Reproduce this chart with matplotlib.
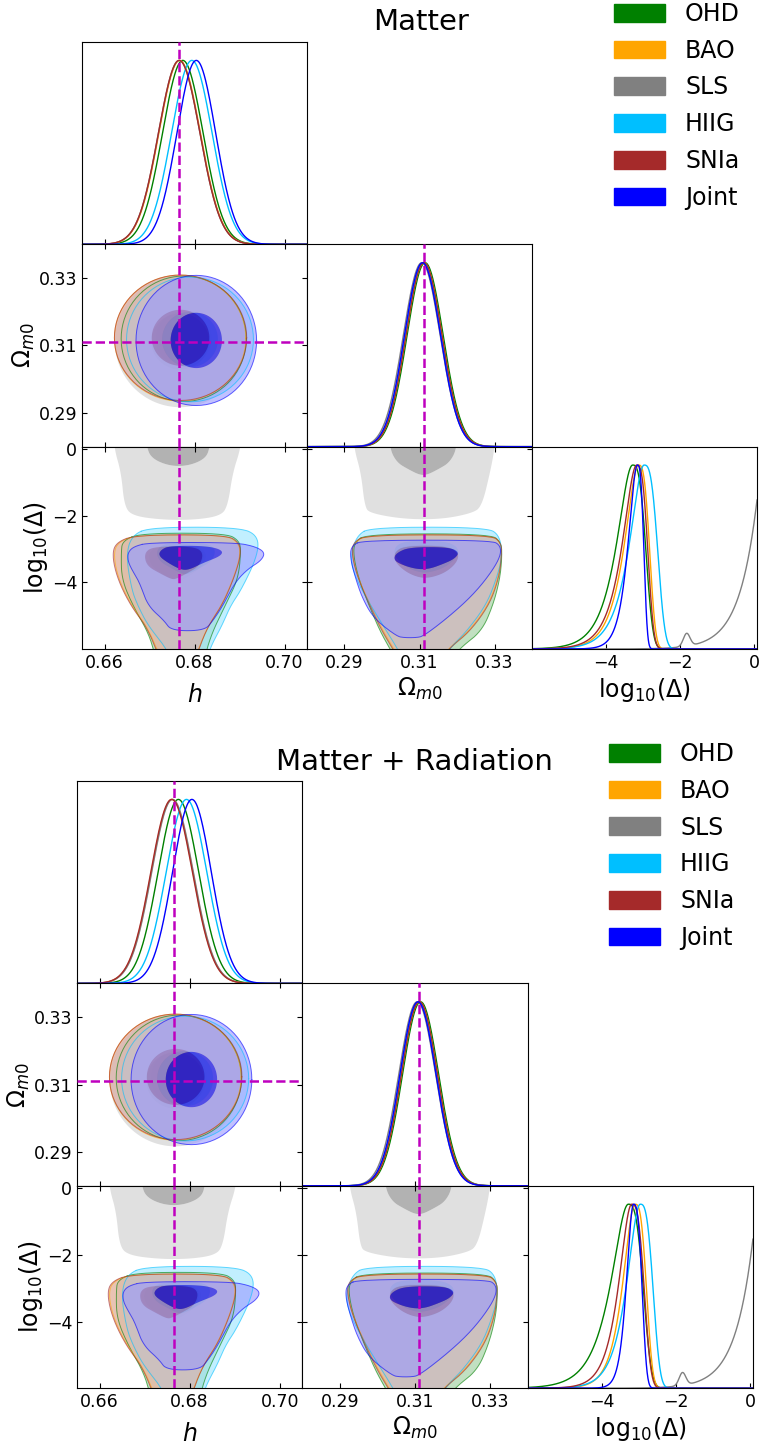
import numpy as np
import matplotlib
matplotlib.use("Agg")
import matplotlib.pyplot as plt
from matplotlib.path import Path
from matplotlib.patches import PathPatch, Polygon, Patch
from matplotlib.colors import to_rgb

# data sets, plotted in this order (Joint ends on top)
names = ['OHD', 'BAO', 'SLS', 'HIIG', 'SNIa', 'Joint']
colors = ['green', 'orange', 'gray', 'deepskyblue', 'brown', 'blue']

# fiducial values (dashed lines)
h_fid = 0.6766
om_fid = 0.3111

h_range = (0.655, 0.705)
om_range = (0.28, 0.34)
ld_range = (-6.0, 0.08)
h_ticks = [0.66, 0.68, 0.70]
om_ticks = [0.29, 0.31, 0.33]
ld_ticks = [-4, -2, 0]
h_ticklabels = ['0.66', '0.68', '0.70']
om_ticklabels = ['0.29', '0.31', '0.33']
ld_ticklabels = ['\u22124', '\u22122', '0']

# ---- 1D marginals, Matter ----
h_mean_mat = [0.6774, 0.6767, 0.6766, 0.6794, 0.6766, 0.6804]
h_sig_mat = [0.0045, 0.0046, 0.0046, 0.0045, 0.0046, 0.0043]
om_mean_mat = [0.3115, 0.3112, 0.3106, 0.3110, 0.3112, 0.3108]
om_sig_mat = [0.0048, 0.0048, 0.0049, 0.0048, 0.0048, 0.0048]
# log10(Delta): peak, left half width, tail scale, right half width (SLS handled apart)
ld_peak_mat = [-3.28, -3.12, None, -2.97, -3.17, -3.15]
ld_lhw_mat = [0.50, 0.44, None, 0.46, 0.45, 0.29]
ld_tail_mat = [0.35, 0.30, None, 0.30, 0.30, 0.25]
ld_rhw_mat = [0.37, 0.31, None, 0.38, 0.31, 0.18]

# ---- 1D marginals, Matter + Radiation ----
h_mean_rad = [0.6775, 0.6761, 0.6762, 0.6793, 0.6760, 0.6805]
h_sig_rad = [0.0045, 0.0046, 0.0046, 0.0045, 0.0046, 0.0043]
om_mean_rad = [0.3115, 0.3112, 0.3106, 0.3110, 0.3112, 0.3108]
om_sig_rad = [0.0048, 0.0048, 0.0049, 0.0048, 0.0048, 0.0048]
ld_peak_rad = [-3.28, -3.10, None, -2.96, -3.19, -3.14]
ld_lhw_rad = [0.55, 0.38, None, 0.42, 0.40, 0.22]
ld_tail_rad = [0.35, 0.30, None, 0.30, 0.30, 0.25]
ld_rhw_rad = [0.42, 0.32, None, 0.36, 0.35, 0.24]

# SLS log10(Delta) marginal: rising edge plus small bump
sls_rise_amp = 0.81
sls_rise_scale = 0.48
sls_bump_pos = -1.82
sls_bump_height = 0.07
sls_bump_width = 0.09

# ---- 2D (h, Omega_m0): centres and 95% / 68% half axes ----
hom_h = [0.6776, 0.6768, 0.6768, 0.6790, 0.6769, 0.6804]
hom_om = [0.3120, 0.3122, 0.3112, 0.3118, 0.3123, 0.3115]
hom_rx95 = [0.0139, 0.0146, 0.0145, 0.0141, 0.0147, 0.0134]
hom_ry95 = [0.0186, 0.0187, 0.0195, 0.0185, 0.0186, 0.0193]
hom_rx68 = [0.0062, 0.0064, 0.0064, 0.0062, 0.0064, 0.0057]
hom_ry68 = [0.0083, 0.0083, 0.0083, 0.0082, 0.0083, 0.0082]

# ---- 2D (h, log10 Delta): rows (log10Delta, h_left, h_right) ----
hld95_ohd = [(-2.52, 0.6680, 0.6870), (-2.75, 0.6640, 0.6900), (-3.1, 0.6637, 0.6903), (-3.9, 0.6638, 0.6897),
             (-4.7, 0.6663, 0.6868), (-5.6, 0.6701, 0.6836), (-6.4, 0.6715, 0.6820)]
hld95_bao = [(-2.57, 0.6672, 0.6868), (-2.8, 0.6628, 0.6898), (-3.2, 0.6620, 0.6902), (-3.9, 0.6631, 0.6886),
             (-4.7, 0.6660, 0.6860), (-5.4, 0.6698, 0.6826), (-6.4, 0.6728, 0.6798)]
hld95_sls = [(0.6, 0.6620, 0.6906), (0.0, 0.6622, 0.6902), (-0.7, 0.6637, 0.6885), (-1.7, 0.6644, 0.6874),
             (-2.0, 0.6662, 0.6858), (-2.12, 0.6730, 0.6800)]
hld95_hiig = [(-2.34, 0.6700, 0.6900), (-2.6, 0.6660, 0.6942), (-3.2, 0.6648, 0.6940), (-4.2, 0.6660, 0.6905),
              (-4.7, 0.6674, 0.6880), (-5.3, 0.6697, 0.6861), (-5.9, 0.6733, 0.6837), (-6.4, 0.6752, 0.6825)]
hld95_snia = [(-2.57, 0.6670, 0.6870), (-2.8, 0.6625, 0.6900), (-3.2, 0.6617, 0.6903), (-3.9, 0.6629, 0.6887),
              (-4.7, 0.6658, 0.6861), (-5.4, 0.6697, 0.6826), (-6.4, 0.6725, 0.6800)]
hld95_joint = [(-2.80, 0.6700, 0.6890), (-2.92, 0.6665, 0.6935), (-3.1, 0.6652, 0.6957), (-3.35, 0.6652, 0.6948),
               (-3.6, 0.6660, 0.6918), (-4.0, 0.6678, 0.6890), (-4.7, 0.6696, 0.6863), (-5.15, 0.6733, 0.6841),
               (-5.45, 0.6748, 0.6822)]

hld68_ohd = [(-2.9, 0.6720, 0.6805), (-3.1, 0.6697, 0.6828), (-3.5, 0.6702, 0.6820), (-3.8, 0.6735, 0.6790),
             (-3.95, 0.6758, 0.6768)]
hld68_bao = [(-2.9, 0.6712, 0.6800), (-3.1, 0.6690, 0.6822), (-3.5, 0.6695, 0.6815), (-3.75, 0.6728, 0.6782),
             (-3.9, 0.6750, 0.6760)]
hld68_sls = [(0.6, 0.6694, 0.6834), (0.0, 0.6694, 0.6834), (-0.3, 0.6708, 0.6822), (-0.5, 0.6745, 0.6785)]
hld68_hiig = [(-2.8, 0.6740, 0.6825), (-3.0, 0.6715, 0.6848), (-3.35, 0.6720, 0.6840), (-3.6, 0.6752, 0.6808),
              (-3.75, 0.6775, 0.6785)]
hld68_snia = [(-2.92, 0.6710, 0.6798), (-3.1, 0.6688, 0.6820), (-3.5, 0.6693, 0.6812), (-3.75, 0.6726, 0.6780),
              (-3.9, 0.6748, 0.6758)]
hld68_joint = [(-2.9, 0.6745, 0.6825), (-3.02, 0.6725, 0.6862), (-3.2, 0.6720, 0.6860), (-3.42, 0.6742, 0.6818),
               (-3.62, 0.6770, 0.6788)]

# ---- 2D (Omega_m0, log10 Delta): rows (log10Delta, om_left, om_right) ----
old95_ohd = [(-2.54, 0.2960, 0.3290), (-2.8, 0.2926, 0.3318), (-3.2, 0.2924, 0.3320), (-3.86, 0.2937, 0.3315),
             (-4.66, 0.2964, 0.3297), (-5.47, 0.2995, 0.3266), (-5.97, 0.3020, 0.3208), (-6.4, 0.3040, 0.3180)]
old95_bao = [(-2.57, 0.2962, 0.3288), (-2.8, 0.2924, 0.3318), (-3.2, 0.2921, 0.3319), (-3.86, 0.2936, 0.3310),
             (-4.66, 0.2968, 0.3285), (-5.47, 0.3003, 0.3232), (-5.97, 0.3030, 0.3178), (-6.4, 0.3050, 0.3150)]
old95_sls = [(0.6, 0.2924, 0.3301), (0.0, 0.2926, 0.3300), (-0.71, 0.2944, 0.3288), (-1.72, 0.2954, 0.3266),
             (-1.92, 0.2968, 0.3240), (-2.1, 0.3060, 0.3160)]
old95_hiig = [(-2.34, 0.2970, 0.3280), (-2.6, 0.2932, 0.3315), (-3.26, 0.2915, 0.3320), (-3.86, 0.2929, 0.3306),
              (-4.66, 0.2968, 0.3279), (-5.47, 0.3013, 0.3226), (-5.97, 0.3040, 0.3181), (-6.4, 0.3060, 0.3160)]
old95_snia = [(-2.57, 0.2960, 0.3290), (-2.8, 0.2922, 0.3318), (-3.2, 0.2920, 0.3319), (-3.86, 0.2935, 0.3312),
              (-4.66, 0.2966, 0.3287), (-5.47, 0.3000, 0.3235), (-5.97, 0.3028, 0.3180), (-6.4, 0.3048, 0.3152)]
old95_joint = [(-2.73, 0.2950, 0.3292), (-2.9, 0.2918, 0.3317), (-3.26, 0.2915, 0.3315), (-3.86, 0.2929, 0.3281),
               (-4.46, 0.2947, 0.3235), (-5.07, 0.2977, 0.3174), (-5.62, 0.3039, 0.3110), (-5.66, 0.3060, 0.3090)]

old68_ohd = [(-2.88, 0.3062, 0.3172), (-3.1, 0.3034, 0.3207), (-3.4, 0.3037, 0.3202), (-3.7, 0.3067, 0.3172),
             (-3.88, 0.3102, 0.3132)]
old68_bao = [(-2.88, 0.3060, 0.3170), (-3.1, 0.3032, 0.3205), (-3.4, 0.3035, 0.3200), (-3.7, 0.3065, 0.3170),
             (-3.85, 0.3100, 0.3130)]
old68_sls = [(0.6, 0.3021, 0.3199), (0.0, 0.3021, 0.3199), (-0.4, 0.3040, 0.3180), (-0.6, 0.3070, 0.3150),
             (-0.77, 0.3100, 0.3120)]
old68_hiig = [(-2.75, 0.3060, 0.3168), (-2.95, 0.3032, 0.3205), (-3.25, 0.3035, 0.3200), (-3.55, 0.3065, 0.3168),
              (-3.7, 0.3100, 0.3128)]
old68_snia = [(-2.9, 0.3060, 0.3170), (-3.1, 0.3032, 0.3205), (-3.4, 0.3035, 0.3200), (-3.7, 0.3065, 0.3170),
              (-3.86, 0.3100, 0.3130)]
old68_joint = [(-2.94, 0.3075, 0.3180), (-3.1, 0.3040, 0.3207), (-3.3, 0.3030, 0.3192), (-3.45, 0.3048, 0.3162),
               (-3.6, 0.3090, 0.3125)]

hld95 = [hld95_ohd, hld95_bao, hld95_sls, hld95_hiig, hld95_snia, hld95_joint]
hld68 = [hld68_ohd, hld68_bao, hld68_sls, hld68_hiig, hld68_snia, hld68_joint]
old95 = [old95_ohd, old95_bao, old95_sls, old95_hiig, old95_snia, old95_joint]
old68 = [old68_ohd, old68_bao, old68_sls, old68_hiig, old68_snia, old68_joint]

fill_alpha = 0.6

W, H = 761.0, 1448.0
fig = plt.figure(figsize=(W / 100, H / 100), dpi=100)


def gauss(x, m, s):
    return np.exp(-0.5 * ((x - m) / s) ** 2)


def ld_curve(L, peak, lhw, tail, rhw):
    d = peak - L
    b = np.log(2) / (np.sqrt(1 + (lhw / tail) ** 2) - 1)
    left = np.exp(-b * (np.sqrt(1 + (d / tail) ** 2) - 1))
    s = rhw / (2 * np.log(2)) ** (1 / 3)
    right = np.exp(-0.5 * np.abs(d / s) ** 3)
    return np.where(d > 0, left, right)


def sls_curve(L):
    return (sls_rise_amp * np.exp((L - ld_range[1]) / sls_rise_scale)
            + sls_bump_height * gauss(L, sls_bump_pos, sls_bump_width))


def chaikin(pts, n=4):
    pts = np.asarray(pts, float)
    for _ in range(n):
        nxt = np.roll(pts, -1, axis=0)
        out = np.empty((2 * len(pts), 2))
        out[0::2] = 0.75 * pts + 0.25 * nxt
        out[1::2] = 0.25 * pts + 0.75 * nxt
        pts = out
    return pts


def rows_outline(rows):
    r = np.asarray(rows, float)
    left = np.column_stack([r[:, 1], r[:, 0]])
    right = np.column_stack([r[:, 2], r[:, 0]])[::-1]
    return chaikin(np.vstack([left, right]))


def ellipse_outline(xc, yc, rx, ry, n=160):
    t = np.linspace(0, 2 * np.pi, n, endpoint=False)
    return np.column_stack([xc + rx * np.cos(t), yc + ry * np.sin(t)])


def signed_area(p):
    x, y = p[:, 0], p[:, 1]
    return 0.5 * np.sum(x * np.roll(y, -1) - np.roll(x, -1) * y)


def draw_region(ax, outer, inner, color, line=True):
    # pale 95% band with the 68% area cut out, then the 68% area in full colour
    c = np.array(to_rgb(color))
    pale = 0.4 * c + 0.6
    hole = inner[::-1] if np.sign(signed_area(outer)) == np.sign(signed_area(inner)) else inner
    verts = np.vstack([outer, outer[:1], hole, hole[:1]])
    codes = ([Path.MOVETO] + [Path.LINETO] * (len(outer) - 1) + [Path.CLOSEPOLY]
             + [Path.MOVETO] + [Path.LINETO] * (len(hole) - 1) + [Path.CLOSEPOLY])
    ax.add_patch(PathPatch(Path(verts, codes), facecolor=pale, edgecolor='none', alpha=fill_alpha))
    ax.add_patch(Polygon(inner, closed=True, facecolor=c, edgecolor='none', alpha=fill_alpha))
    if line:
        q = np.vstack([outer, outer[:1]])
        ax.plot(q[:, 0], q[:, 1], color=c, lw=0.7, alpha=0.6)


def triangle(x0, y0, cw, rh, h_mean, h_sig, om_mean, om_sig, ld_peak, ld_lhw, ld_tail, ld_rhw):
    axs = {}
    for i in range(3):
        for j in range(i + 1):
            rect = [(x0 + j * cw) / W, 1 - (y0 + (i + 1) * rh) / H, cw / W, rh / H]
            axs[i, j] = fig.add_axes(rect)

    hx = np.linspace(h_range[0], h_range[1], 500)
    ox = np.linspace(om_range[0], om_range[1], 500)
    lx = np.linspace(ld_range[0], ld_range[1], 800)

    for k in range(len(names)):
        col = colors[k]
        axs[0, 0].plot(hx, gauss(hx, h_mean[k], h_sig[k]), color=col, lw=1.0)
        axs[1, 1].plot(ox, gauss(ox, om_mean[k], om_sig[k]), color=col, lw=1.0)
        if names[k] == 'SLS':
            ly = sls_curve(lx)
        else:
            ly = ld_curve(lx, ld_peak[k], ld_lhw[k], ld_tail[k], ld_rhw[k])
        axs[2, 2].plot(lx, ly, color=col, lw=1.0)

        draw_region(axs[1, 0],
                    ellipse_outline(hom_h[k], hom_om[k], hom_rx95[k], hom_ry95[k]),
                    ellipse_outline(hom_h[k], hom_om[k], hom_rx68[k], hom_ry68[k]),
                    col, line=names[k] != 'SLS')
        draw_region(axs[2, 0], rows_outline(hld95[k]), rows_outline(hld68[k]), col,
                    line=names[k] != 'SLS')
        draw_region(axs[2, 1], rows_outline(old95[k]), rows_outline(old68[k]), col,
                    line=names[k] != 'SLS')

    dash = dict(color='m', ls='--', lw=1.8, zorder=6)
    for key in [(0, 0), (1, 0), (2, 0)]:
        axs[key].axvline(h_fid, **dash)
    axs[1, 0].axhline(om_fid, **dash)
    for key in [(1, 1), (2, 1)]:
        axs[key].axvline(om_fid, **dash)

    lims = [h_range, om_range, ld_range]
    ticks = [h_ticks, om_ticks, ld_ticks]
    tlabels = [h_ticklabels, om_ticklabels, ld_ticklabels]
    labels = ['$h$', r'$\Omega_{m0}$', r'$\mathrm{log}_{10}(\Delta)$']
    xpads = [8, 3, 3]
    for (i, j), ax in axs.items():
        ax.set_xlim(lims[j])
        ax.set_xticks(ticks[j])
        if i == j:
            ax.set_ylim(0, 1.1)
            ax.set_yticks([])
            ax.tick_params(axis='x', direction='in', length=3.5, labelsize=12.5)
        else:
            ax.set_ylim(lims[i])
            ax.set_yticks(ticks[i])
            ax.tick_params(direction='in', top=True, right=True, length=3.5, labelsize=12.5)
        if i == 2:
            ax.set_xticklabels(tlabels[j])
            ax.set_xlabel(labels[j], fontsize=17, labelpad=xpads[j])
        else:
            ax.set_xticklabels([])
        if i != j:
            if j == 0:
                ax.set_yticklabels(tlabels[i])
                ax.set_ylabel(labels[i], fontsize=17, labelpad=1)
            else:
                ax.set_yticklabels([])
    return axs


triangle(82, 42, 225.0, 202.33, h_mean_mat, h_sig_mat, om_mean_mat, om_sig_mat,
         ld_peak_mat, ld_lhw_mat, ld_tail_mat, ld_rhw_mat)
triangle(77, 781, 225.3, 202.4, h_mean_rad, h_sig_rad, om_mean_rad, om_sig_rad,
         ld_peak_rad, ld_lhw_rad, ld_tail_rad, ld_rhw_rad)

fig.text(421 / W, 1 - 30.5 / H, 'Matter', ha='center', va='baseline', fontsize=21)
fig.text(414 / W, 1 - 770 / H, 'Matter + Radiation', ha='center', va='baseline', fontsize=21)

handles = [Patch(facecolor=c, edgecolor=c) for c in colors]
leg_style = dict(loc='upper left', frameon=False, fontsize=17, handlelength=2.16, handleheight=0.78,
                 handletextpad=0.85, labelspacing=0.54, borderpad=0, borderaxespad=0)
fig.legend(handles, names, bbox_to_anchor=(614 / W, 1 - 2 / H), **leg_style)
fig.legend(handles, names, bbox_to_anchor=(609 / W, 1 - 742 / H), **leg_style)

fig.savefig('out.png', dpi=100)
